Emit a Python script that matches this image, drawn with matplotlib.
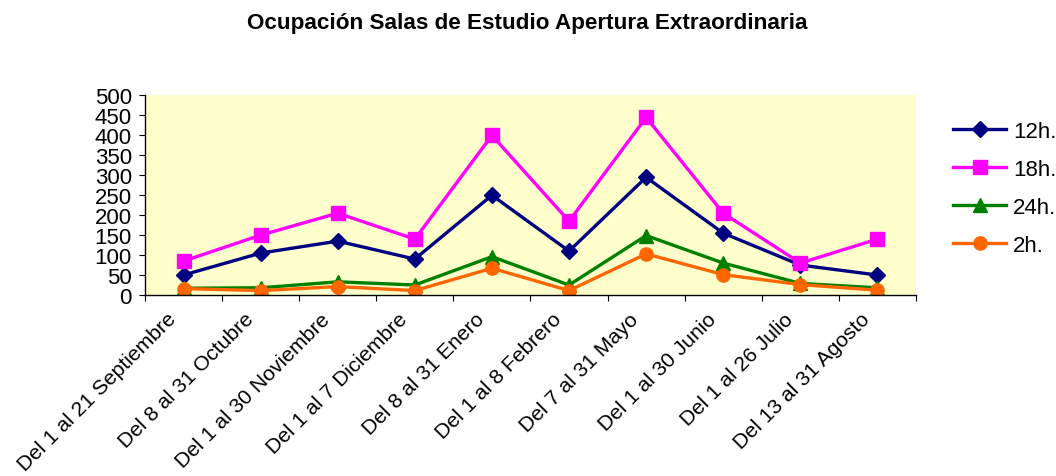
import numpy as np
import matplotlib
matplotlib.use("Agg")
import matplotlib.pyplot as plt
import matplotlib.transforms as mtransforms

plt.rcParams['font.family'] = ['Liberation Sans', 'DejaVu Sans']

periodos = ["Del 1 al 21 Septiembre", "Del 8 al 31 Octubre", "Del 1 al 30 Noviembre",
            "Del 1 al 7 Diciembre", "Del 8 al 31 Enero", "Del 1 al 8 Febrero",
            "Del 7 al 31 Mayo", "Del 1 al 30 Junio", "Del 1 al 26 Julio",
            "Del 13 al 31 Agosto"]

h12 = [50, 105, 135, 90, 250, 110, 295, 155, 75, 50]
h18 = [85, 150, 205, 140, 400, 185, 445, 205, 80, 140]
h24 = [17, 18, 33, 25, 96, 25, 149, 80, 29, 18]
h2 = [16, 11, 21, 11, 67, 11, 103, 51, 26, 12]

series = [("12h.", h12, "#000080", "D", 8),
          ("18h.", h18, "#FF00FF", "s", 9.5),
          ("24h.", h24, "#008000", "^", 9.5),
          ("2h.", h2, "#FF6600", "o", 9.5)]

fig = plt.figure(figsize=(10.56, 4.77), dpi=100)
ax = fig.add_axes([0.1373, 0.3795, 0.7301, 0.4182])
ax.set_facecolor("#FFFFCC")

x = np.arange(len(periodos))
for name, vals, col, mk, ms in series:
    ax.plot(x, vals, color=col, lw=2.4, marker=mk, markersize=ms,
            markerfacecolor=col, markeredgecolor=col, label=name)

ax.set_xlim(-0.5, len(periodos) - 0.5)
ax.set_ylim(0, 500)
ax.set_yticks(np.arange(0, 501, 50))
ax.set_xticks(np.arange(-0.5, len(periodos), 1.0))
ax.set_xticklabels([])
ax.set_xticks(x, minor=True)
ax.set_xticklabels(periodos, minor=True, rotation=45, ha="right",
                   rotation_mode="anchor", fontsize=15.2)
ax.tick_params(axis="x", which="minor", length=0, pad=8)
ax.tick_params(axis="x", which="major", length=4.5, direction="out")
ax.tick_params(axis="y", length=4.5, direction="out", labelsize=16, pad=5)

# shift rotated labels slightly left, like the original
shift = mtransforms.ScaledTranslation(-17 / 100, -3 / 100, fig.dpi_scale_trans)
for lab in ax.get_xticklabels(minor=True):
    lab.set_transform(lab.get_transform() + shift)

for s in ["top", "right"]:
    ax.spines[s].set_visible(False)
ax.spines["left"].set_linewidth(1)
ax.spines["bottom"].set_linewidth(1)

fig.text(0.499, 0.950, "Ocupación Salas de Estudio Apertura Extraordinaria",
         ha="center", va="center", fontsize=16.2, fontweight="bold")

leg = fig.legend(loc="upper left", bbox_to_anchor=(0.9025, 0.744), frameon=False,
                 fontsize=16, handlelength=2.4, labelspacing=0.76,
                 handletextpad=0.3, borderaxespad=0, borderpad=0)

fig.savefig("out.png", dpi=100)
